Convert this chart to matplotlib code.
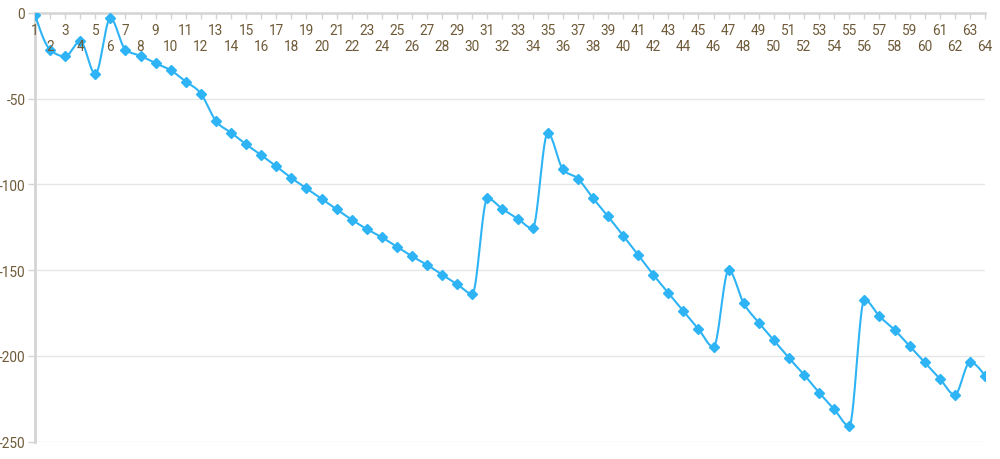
import numpy as np
import matplotlib
matplotlib.use("Agg")
import matplotlib.pyplot as plt
from matplotlib.transforms import blended_transform_factory, offset_copy

plt.rcParams['font.family'] = ['Roboto', 'DejaVu Sans']

categories = list(range(1, 65))
values = [-1, -21.4, -25.3, -16.5, -35.6, -3.1, -21.4, -25.0, -29.3, -33.4,
          -40.0, -47.0, -63.0, -69.8, -76.6, -82.9, -89.4, -96.2, -102.2, -108.3,
          -114.5, -120.5, -126.0, -130.8, -136.3, -141.9, -146.9, -152.6, -158.2, -163.8,
          -108.1, -114.3, -119.9, -125.6, -70.0, -91.0, -96.6, -107.9, -118.6, -129.8,
          -141.1, -152.6, -163.3, -173.9, -184.3, -194.8, -150.0, -169.3, -180.6, -190.9,
          -201.2, -210.9, -221.4, -231.1, -240.8, -167.2, -176.9, -184.8, -194.2, -203.7,
          -213.2, -222.6, -203.7, -211.5]
x_labels = [str(c) for c in categories]
y_ticks = [0, -50, -100, -150, -200, -250]

LINE = '#2EB4F5'
TXT = '#6E5A38'
AXC = '#D4D4D4'
GRID = '#E6E6E6'


def monotone_curve(x, y, n=30):
    x = np.asarray(x, float)
    y = np.asarray(y, float)
    h = np.diff(x)
    s = np.diff(y) / h
    m = np.zeros_like(y)
    for i in range(1, len(y) - 1):
        s0, s1 = s[i - 1], s[i]
        p = (s0 * h[i] + s1 * h[i - 1]) / (h[i - 1] + h[i])
        m[i] = (np.sign(s0) + np.sign(s1)) * min(abs(s0), abs(s1), 0.5 * abs(p))
    m[0] = (3 * s[0] - m[1]) / 2 if len(y) > 2 else s[0]
    m[-1] = (3 * s[-1] - m[-2]) / 2 if len(y) > 2 else s[-1]
    xs, ys = [], []
    for i in range(len(y) - 1):
        t = np.linspace(0, 1, n, endpoint=(i == len(y) - 2))
        h00 = 2 * t**3 - 3 * t**2 + 1
        h10 = t**3 - 2 * t**2 + t
        h01 = -2 * t**3 + 3 * t**2
        h11 = t**3 - t**2
        xs.append(x[i] + t * h[i])
        ys.append(h00 * y[i] + h10 * h[i] * m[i] + h01 * y[i + 1] + h11 * h[i] * m[i + 1])
    return np.concatenate(xs), np.concatenate(ys)


fig = plt.figure(figsize=(10, 4.6), dpi=100)
ax = fig.add_axes([0.035, 1 - 442.7 / 460, 0.95, (442.7 - 14) / 460])

ax.set_xlim(categories[0], categories[-1])
ax.set_ylim(-250, 0)

for yv in y_ticks[1:]:
    ax.axhline(yv, color=GRID, lw=1, zorder=0)

sx, sy = monotone_curve(categories, values)
ax.plot(sx, sy, color=LINE, lw=1.5, zorder=3, solid_capstyle='round')
ax.plot(categories, values, linestyle='none', marker='D', markersize=4.6,
        color=LINE, markeredgecolor=LINE, zorder=4)

for sp in ['right', 'bottom']:
    ax.spines[sp].set_visible(False)
ax.spines['top'].set_color(AXC)
ax.spines['top'].set_linewidth(1.8)
ax.spines['left'].set_color(AXC)
ax.spines['left'].set_linewidth(2)

ax.set_xticks(categories)
ax.tick_params(axis='x', top=True, bottom=False, direction='in', length=4,
               color=AXC, width=1, labeltop=False, labelbottom=False)
ax.set_yticks(y_ticks)
ax.set_yticklabels([str(v) for v in y_ticks])
ax.tick_params(axis='y', direction='out', length=5, color=AXC, width=1,
               labelsize=9.8, labelcolor=TXT, pad=2)

trans = blended_transform_factory(ax.transData, ax.transAxes)
for i, (c, lab) in enumerate(zip(categories, x_labels)):
    dy = -12 if i % 2 == 0 else -24
    t = offset_copy(trans, fig=fig, x=0, y=dy, units='points')
    ax.text(c, 1.0, lab, transform=t, ha='center', va='center',
            fontsize=9.8, color=TXT, zorder=5, clip_on=False)

fig.savefig('out.png', dpi=100)
